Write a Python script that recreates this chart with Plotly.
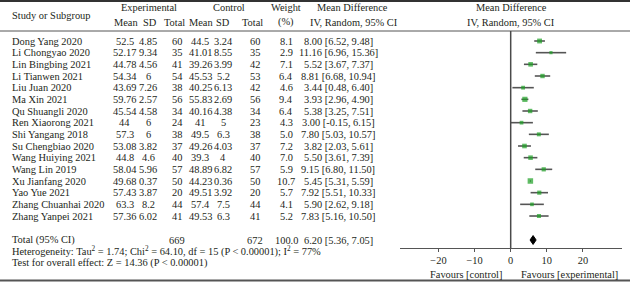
import plotly.graph_objects as go

# ---------------- data ----------------
studies = ["Dong Yang 2020", "Li Chongyao 2020", "Lin Bingbing 2021", "Li Tianwen 2021",
           "Liu Juan 2020", "Ma Xin 2021", "Qu Shuangli 2020", "Ren Xiaorong 2021",
           "Shi Yangang 2018", "Su Chengbiao 2020", "Wang Huiying 2021", "Wang Lin 2019",
           "Xu Jianfang 2020", "Yao Yue 2021", "Zhang Chuanhai 2020", "Zhang Yanpei 2021"]
exp_mean = ["52.5", "52.17", "44.78", "54.34", "43.69", "59.76", "45.54", "44", "57.3",
            "53.08", "44.8", "58.04", "49.68", "57.43", "63.3", "57.36"]
exp_sd = ["4.85", "9.34", "4.56", "6", "7.26", "2.57", "4.58", "6", "6", "3.82", "4.6",
          "5.96", "0.37", "3.87", "8.2", "6.02"]
exp_n = [60, 35, 41, 54, 38, 56, 34, 24, 38, 37, 40, 57, 50, 20, 44, 41]
ctl_mean = ["44.5", "41.01", "39.26", "45.53", "40.25", "55.83", "40.16", "41", "49.5",
            "49.26", "39.3", "48.89", "44.23", "49.51", "57.4", "49.53"]
ctl_sd = ["3.24", "8.55", "3.99", "5.2", "6.13", "2.69", "4.38", "5", "6.3", "4.03", "4",
          "6.82", "0.36", "3.92", "7.5", "6.3"]
ctl_n = [60, 35, 42, 53, 42, 56, 34, 23, 38, 37, 40, 57, 50, 20, 44, 41]
weight = [8.1, 2.9, 7.1, 6.4, 4.6, 9.4, 6.4, 4.3, 5.0, 7.2, 7.0, 5.9, 10.7, 5.7, 4.1, 5.2]
md = [8.00, 11.16, 5.52, 8.81, 3.44, 3.93, 5.38, 3.00, 7.80, 3.82, 5.50, 9.15, 5.45, 7.92, 5.90, 7.83]
ci_lo = [6.52, 6.96, 3.67, 6.68, 0.48, 2.96, 3.25, -0.15, 5.03, 2.03, 3.61, 6.80, 5.31, 5.51, 2.62, 5.16]
ci_hi = [9.48, 15.36, 7.37, 10.94, 6.40, 4.90, 7.51, 6.15, 10.57, 5.61, 7.39, 11.50, 5.59, 10.33, 9.18, 10.50]

total_exp_n = 669
total_ctl_n = 672
total_weight = "100.0"
total_md, total_lo, total_hi = 6.20, 5.36, 7.05
heterogeneity = "Heterogeneity: Tau<sup>2</sup> = 1.74; Chi<sup>2</sup> = 64.10, df = 15 (P < 0.00001); I<sup>2</sup> = 77%"
overall = "Test for overall effect: Z = 14.36 (P < 0.00001)"

tick_vals = [-20, -10, 0, 10, 20]
tick_text = ["\u221220", "\u221210", "0", "10", "20"]

# ---------------- layout constants ----------------
W, H = 630, 285
ROW_TOP, ROW_STEP = 41.0, 11.667
FONT = "Liberation Serif, Times New Roman, serif"
TXT = "#231f20"
FS = 10.4

def row_of(px):
    return (px - ROW_TOP) / ROW_STEP

def px(x):
    return x / W

rows = list(range(len(studies)))
total_row = row_of(240)

fig = go.Figure()

# CI lines
for i in rows:
    fig.add_trace(go.Scatter(x=[ci_lo[i], ci_hi[i]], y=[i, i], mode="lines",
                             line=dict(color="#555555", width=1.6),
                             hoverinfo="skip", showlegend=False))
# squares
fig.add_trace(go.Scatter(x=md, y=rows, mode="markers",
                         marker=dict(symbol="square", color="#1ca024",
                                     size=[1.5 * w ** 0.5 + 0.6 for w in weight],
                                     line=dict(width=0)),
                         hoverinfo="skip", showlegend=False))
# diamond
dh = 0.38
fig.add_trace(go.Scatter(x=[total_lo, total_md, total_hi, total_md, total_lo],
                         y=[total_row, total_row - dh, total_row, total_row + dh, total_row],
                         mode="lines", fill="toself", fillcolor="#000000",
                         line=dict(color="#000000", width=1),
                         hoverinfo="skip", showlegend=False))

ann = []
def txt(x, y, s, anchor="center", size=FS):
    ann.append(dict(x=px(x), y=y, xref="paper", yref="y", text=s, showarrow=False,
                    xanchor=anchor, yanchor="middle",
                    font=dict(family=FONT, size=size, color=TXT)))

# column centres (px)
C_EM, C_ES, C_EN = 124.5, 148, 177
C_CM, C_CS, C_CN = 200, 223, 255
C_W, C_MD = 286, 338

# header
h1, h2 = row_of(7.5), row_of(22)
txt(10, row_of(15.5), "Study or Subgroup", "left")
txt(149, h1, "Experimental")
txt(229, h1, "Control")
txt(286, h1, "Weight")
txt(352, h1, "Mean Difference")
txt(511, h1, "Mean Difference")
txt(126, h2, "Mean"); txt(150, h2, "SD"); txt(174, h2, "Total")
txt(201, h2, "Mean"); txt(223, h2, "SD"); txt(252, h2, "Total")
txt(286, h2, "(%)")
txt(354, h2, "IV, Random, 95% CI")
txt(511, h2, "IV, Random, 95% CI")

# body
for i in rows:
    txt(10, i, studies[i], "left")
    txt(C_EM, i, exp_mean[i]); txt(C_ES, i, exp_sd[i]); txt(C_EN, i, str(exp_n[i]))
    txt(C_CM, i, ctl_mean[i]); txt(C_CS, i, ctl_sd[i]); txt(C_CN, i, str(ctl_n[i]))
    txt(C_W, i, f"{weight[i]:.1f}")
    txt(C_MD, i, f"{md[i]:.2f} [{ci_lo[i]:.2f}, {ci_hi[i]:.2f}]")

# totals
txt(10, total_row, "Total (95% CI)", "left")
txt(C_EN, total_row, str(total_exp_n))
txt(C_CN, total_row, str(total_ctl_n))
txt(C_W, total_row, total_weight)
txt(C_MD, total_row, f"{total_md:.2f} [{total_lo:.2f}, {total_hi:.2f}]")
txt(10, row_of(251.5), heterogeneity, "left")
txt(10, row_of(263), overall, "left")
txt(466, row_of(274), "Favours [control]")
txt(569, row_of(274), "Favours [experimental]")

shapes = [
    dict(type="line", xref="paper", yref="paper", x0=0, x1=1, y0=1 - 1 / H, y1=1 - 1 / H,
         line=dict(color="#333333", width=2)),
    dict(type="line", xref="paper", yref="y", x0=0, x1=1, y0=row_of(31), y1=row_of(31),
         line=dict(color="#555555", width=1)),
    dict(type="line", xref="paper", yref="paper", x0=0, x1=1, y0=1 - 280.5 / H, y1=1 - 280.5 / H,
         line=dict(color="#555555", width=2)),
    dict(type="line", xref="x", yref="y", x0=0, x1=0, y0=row_of(31), y1=row_of(248),
         line=dict(color="#4a4a4a", width=1.5)),
]

fig.update_layout(
    width=W, height=H, margin=dict(l=0, r=0, t=0, b=0),
    paper_bgcolor="white", plot_bgcolor="rgba(0,0,0,0)",
    annotations=ann, shapes=shapes, showlegend=False,
    xaxis=dict(domain=[400 / W, 622 / W], range=[-30.66, 30.83], anchor="free",
               position=1 - 248 / H, showline=True, linecolor="#555555", linewidth=1,
               ticks="outside", ticklen=3, tickcolor="#555555", tickvals=tick_vals,
               ticktext=tick_text, showgrid=False, zeroline=False,
               tickfont=dict(family=FONT, size=FS, color=TXT)),
    yaxis=dict(domain=[0, 1], range=[row_of(H), row_of(0)], visible=False,
               showgrid=False, zeroline=False),
)

fig.write_html("out.html", config={"displayModeBar": False},
               post_script="document.body.style.margin='0';document.body.style.overflow='hidden';")
